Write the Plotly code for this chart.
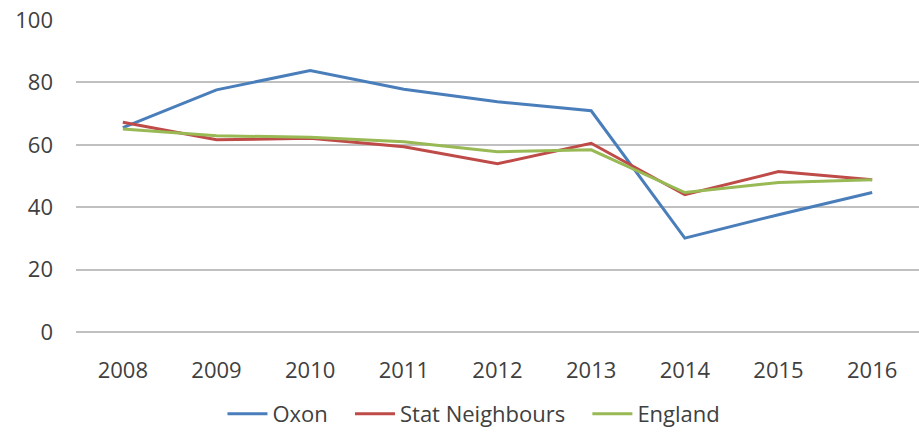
import plotly.graph_objects as go

years = ["2008", "2009", "2010", "2011", "2012", "2013", "2014", "2015", "2016"]
oxon = [65.5, 77.6, 83.8, 77.8, 73.8, 70.9, 30.1, 37.6, 44.7]
stat_neighbours = [67.2, 61.6, 62.1, 59.4, 53.9, 60.5, 44.0, 51.4, 48.8]
england = [65.1, 62.9, 62.4, 61.0, 57.8, 58.4, 44.7, 47.9, 48.8]
y_ticks = [0, 20, 40, 60, 80, 100]

series = [
    ("Oxon", oxon, "#4A7EBB"),
    ("Stat Neighbours", stat_neighbours, "#BE4B48"),
    ("England", england, "#98B954"),
]

fig = go.Figure()
for name, vals, color in series:
    fig.add_trace(go.Scatter(
        x=years, y=vals, name=name + "   ", mode="lines",
        line=dict(color=color, width=3),
    ))

font = dict(family="Open Sans, Liberation Sans, sans-serif", size=22, color="#404040")

fig.update_layout(
    width=919, height=435,
    margin=dict(l=76, r=0, t=20, b=103, autoexpand=False),
    paper_bgcolor="white", plot_bgcolor="white",
    font=font,
    showlegend=True,
    legend=dict(
        orientation="h", xref="container", yref="container",
        x=0.525, xanchor="center", y=0.0, yanchor="bottom",
        font=dict(size=22, color="#404040"), tracegroupgap=0,
        itemwidth=40, borderwidth=0,
    ),
    xaxis=dict(
        type="category", range=[-0.5, len(years) - 0.5],
        showgrid=False, showline=False, zeroline=False,
        ticks="", ticklabelstandoff=23,
    ),
    yaxis=dict(
        range=[0, 100], tickvals=y_ticks, showgrid=True,
        gridcolor="#C0C0C0", gridwidth=1.5,
        zeroline=True, zerolinecolor="#C0C0C0", zerolinewidth=1.5,
        showline=False, ticks="", ticklabelstandoff=22,
    ),
)

fig.write_html("out.html")
